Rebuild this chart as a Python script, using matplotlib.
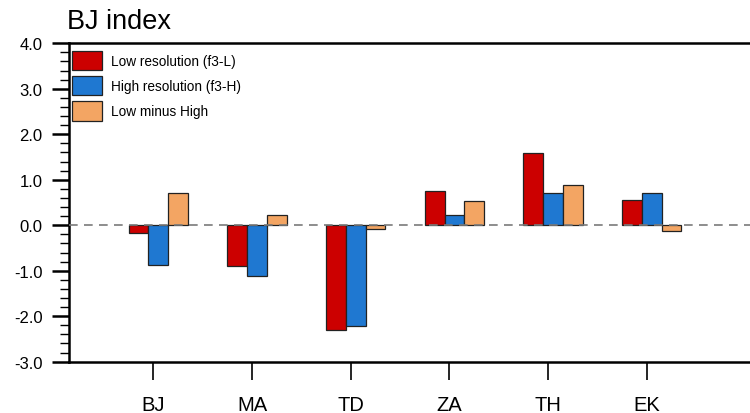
import matplotlib.pyplot as plt
import numpy as np

plt.rcParams['font.family'] = ['Liberation Sans', 'DejaVu Sans']

indices = ["BJ", "MA", "TD", "ZA", "TH", "EK"]
low_res = [-0.17, -0.90, -2.30, 0.76, 1.58, 0.56]
high_res = [-0.87, -1.12, -2.21, 0.22, 0.70, 0.70]
low_minus_high = [0.71, 0.23, -0.08, 0.54, 0.89, -0.13]

series = [
    ("Low resolution (f3-L)", low_res, "#cc0000"),
    ("High resolution (f3-H)", high_res, "#1f78d1"),
    ("Low minus High", low_minus_high, "#f3a563"),
]

fig = plt.figure(figsize=(7.5, 4.14), dpi=100)
ax = fig.add_axes([0.092, 0.124, 0.908, 0.769])

x = np.arange(1, len(indices) + 1)
width = 0.2
offsets = [-0.15, 0.05, 0.25]
for (label, vals, color), off in zip(series, offsets):
    ax.bar(x + off, vals, width=width, color=color, edgecolor="#222222",
           linewidth=0.9, label=label, zorder=2)

# dashed zero reference line
ax.axhline(0, color="#7a7a7a", lw=1.2, ls=(0, (5.2, 3.8)), zorder=3)

ax.set_xlim(0.145, 7.045)
ax.set_ylim(-3, 4)
ax.set_xticks(x)
ax.set_xticklabels(indices, fontsize=14.5)
ax.set_yticks(np.arange(-3, 4.1, 1))
ax.set_yticklabels([f"{v:.1f}" for v in np.arange(-3, 4.1, 1)], fontsize=12)
ax.set_yticks(np.arange(-3, 4.01, 0.2), minor=True)

ax.tick_params(axis="y", which="major", direction="out", length=12, width=1.8, pad=7)
ax.tick_params(axis="y", which="minor", direction="out", length=6.5, width=1.0)
ax.tick_params(axis="x", which="major", direction="out", length=13, width=1.2, pad=11)

ax.spines["right"].set_visible(False)
for side in ["left", "bottom", "top"]:
    ax.spines[side].set_linewidth(1.8)

ax.text(-0.003, 1.03, "BJ index", transform=ax.transAxes, fontsize=19.5,
        ha="left", va="bottom")

ax.legend(loc="upper left", bbox_to_anchor=(0.0044, 0.977), frameon=False,
          fontsize=9.8, handlelength=2.2, handleheight=1.8, labelspacing=0.45,
          handletextpad=0.7, borderpad=0, borderaxespad=0)

fig.savefig("out.png", dpi=100)
